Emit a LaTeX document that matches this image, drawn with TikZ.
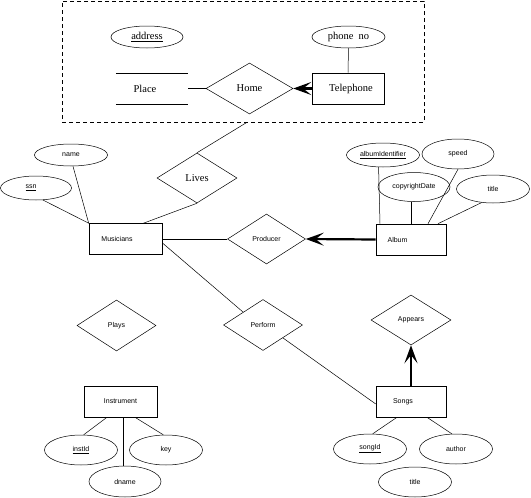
\documentclass[tikz,border=0pt]{standalone}
\usepackage{fontspec}
\setmainfont{Liberation Sans}
\newfontfamily\serifbig{Liberation Serif}
\usetikzlibrary{shapes.geometric,arrows.meta,calc}
\begin{document}
\begin{tikzpicture}[x=1pt,y=-1pt,
 every node/.style={font=\fontsize{7}{8}\selectfont, inner sep=0pt},
 ent/.style={draw, rectangle, minimum width=72pt, minimum height=31pt, line width=0.6pt},
 rel/.style={draw, diamond, minimum width=80pt, minimum height=50pt, line width=0.5pt},
 attr/.style={draw, ellipse, minimum width=73pt, minimum height=24pt, line width=0.5pt},
 big/.style={font=\serifbig\fontsize{10.5}{12}\selectfont},
 conn/.style={line width=0.5pt},
 heavy/.style={line width=2.2pt, -{Stealth[length=18pt,width=13pt,inset=8pt]}},
]
\useasboundingbox (0,0) rectangle (531,498);

% aggregation box
\node[draw, dash pattern=on 4pt off 3pt, minimum width=362pt, minimum height=121pt, line width=0.6pt] (agg) at (243,61.5) {};
\node[attr, big, minimum width=72pt, minimum height=22pt] (address) at (147,37) {\underline{address}};
\node[attr, big, minimum width=73pt, minimum height=22pt] (phone) at (348.5,37) {phone\ \ no};
\node[ent, big] (tel) at (348,88.5) {\hspace*{6pt}Telephone};
\node[rel, big, minimum width=87pt, minimum height=51pt] (home) at (249.5,88.5) {Home};
\node[big, minimum width=72pt, minimum height=31pt] (place) at (152,88.5) {Place\hspace*{14pt}};
\draw[conn] (place.north west) -- (place.north east);
\draw[conn] (place.south west) -- (place.south east);
\draw[conn] (phone.south) -- (tel.north);
\draw[conn] (place.east) -- (home.west);
\draw[heavy] (tel.west) -- (home.east);

% Lives
\node[rel, big] (lives) at (197,178) {Lives};
\draw[conn] (lives.north) -- ($(agg.south)+(4,0)$);

% Musicians
\node[ent, minimum width=73pt] (mus) at (125.5,239) {Musicians\hspace*{17pt}};
\node[attr, minimum height=22pt] (name) at (71,155) {name};
\node[attr, minimum width=71pt] (ssn) at (36,188) {\underline{ssn}\hspace*{10pt}};
\draw[conn] (lives.south) -- ($(mus.north)+(18,0)$);
\draw[conn] (name.-80) -- (mus.north west);
\draw[conn] (ssn.-60) -- (mus.north west);

% Producer / Album
\node[rel, minimum width=78pt] (prod) at (266.5,239) {Producer};
\node[ent, minimum width=70pt] (alb) at (411,239.5) {Album\hspace*{27pt}};
\draw[conn] (mus.east) -- (prod.west);
\draw[heavy] (alb.west) -- (prod.east);
\node[attr] (albid) at (383,155) {\underline{albumIdentifier}};
\node[attr, minimum width=72pt, minimum height=30pt] (speed) at (458,154) {speed};
\node[attr, minimum width=72pt, minimum height=29pt] (copy) at (414,187) {copyrightDate};
\node[attr, minimum height=28pt] (atitle) at (493,189) {title};
\draw[conn] (albid.-110) -- ($(alb.north)+(-31,0)$);
\draw[conn] (copy.-100) -- (copy.-100 |- alb.north);
\draw[conn] (speed.south) -- ($(alb.north)+(17,0)$);
\draw[conn] (atitle.-130) -- ($(alb.north)+(27,0)$);

% Perform / Songs
\node[rel, minimum width=79pt, minimum height=51pt] (perf) at (263,325) {Perform};
\node[ent, minimum width=70pt] (songs) at (411,401.5) {Songs\hspace*{16pt}};
\node[rel] (app) at (411,320) {Appears};
\draw[conn] (mus.-6) -- (perf.north west);
\draw[conn] (perf.south east) -- (songs.184);
\draw[heavy] (songs.north) -- (app.south);
\node[attr, minimum height=30pt] (songid) at (370,449) {\underline{songId}};
\node[attr, minimum height=30pt] (author) at (456,449) {author};
\node[attr, minimum height=30pt] (stitle) at (415,482) {title};
\draw[conn] ($(songs.south)+(-14,0)$) -- (songid.80);
\draw[conn] ($(songs.south)+(16,0)$) -- (author.105);

% Plays / Instrument
\node[rel, minimum width=79pt, minimum height=51pt] (plays) at (116.5,325.5) {Plays};
\node[ent, minimum width=73pt] (inst) at (120.5,401.5) {Instrument};
\node[attr, minimum height=30pt] (instid) at (81,450) {\underline{instId}};
\node[attr, minimum height=30pt] (key) at (166,450) {key};
\node[attr, minimum width=72pt, minimum height=31pt] (dname) at (125,481.5) {dname};
\draw[conn] ($(inst.south)+(-13.5,0)$) -- (instid.80);
\draw[conn] (dname.95 |- inst.south) -- (dname.95);
\draw[conn] ($(inst.south)+(14.5,0)$) -- (key.100);
\end{tikzpicture}
\end{document}
